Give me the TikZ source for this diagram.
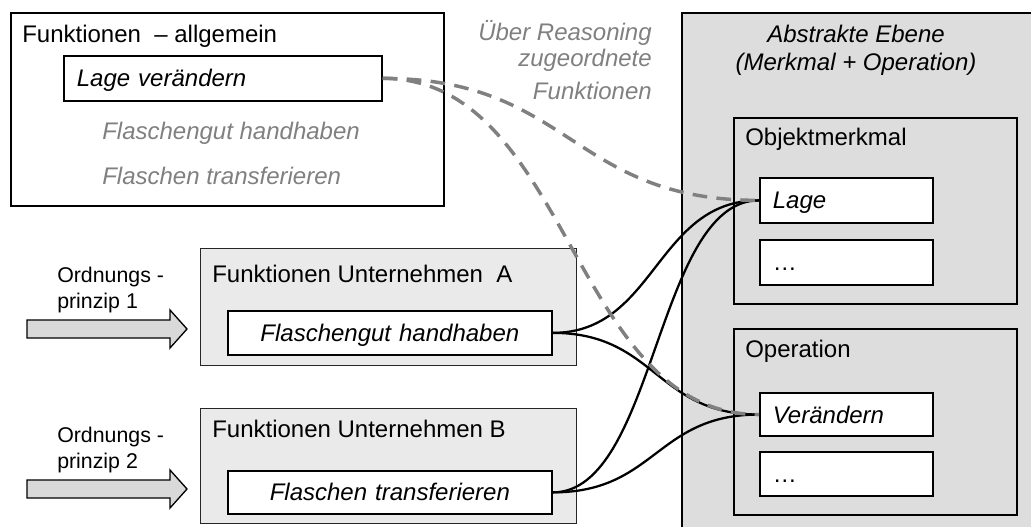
\documentclass[tikz,border=0pt]{standalone}
\usepackage{fontspec}
\setmainfont{Liberation Sans}
\usetikzlibrary{calc, positioning}

\definecolor{firmgray}{HTML}{EAEAEA}
\definecolor{levelgray}{HTML}{DDDDDD}
\definecolor{arrowgray}{HTML}{D9D9D9}
\definecolor{hintgray}{HTML}{808080}

\newcommand{\boxfont}{\fontsize{18}{21}\selectfont}
\newcommand{\smallboxfont}{\fontsize{16}{19.5}\selectfont}

\tikzstyle{frame}=[rectangle, draw=black, line width=1.3pt, anchor=north west, inner sep=0pt]
\tikzstyle{firm}=[frame, draw=black!85, line width=1pt, fill=firmgray]
\tikzstyle{level}=[frame, fill=levelgray]
\tikzstyle{func}=[rectangle, draw=black, line width=1.3pt, fill=white, anchor=north west, align=left, inner xsep=9.75pt, inner ysep=0pt, text height=12.9pt, text depth=0pt, font=\boxfont\itshape]
\tikzstyle{title}=[anchor=base west, inner sep=0pt, font=\boxfont]
\tikzstyle{hint}=[inner sep=0pt, text=hintgray, font=\boxfont\itshape]
\tikzstyle{principle}=[draw=black, line width=1pt, fill=arrowgray]
\tikzstyle{link}=[line width=1.7pt, draw=black]
\tikzstyle{reason}=[line width=2.6pt, draw=hintgray, dash pattern=on 11pt off 7pt]
\tikzset{elbow/.style={to path={.. controls ($(\tikztostart)!0.5!(\tikztotarget |- \tikztostart)$) and ($(\tikztotarget)!0.5!(\tikztostart |- \tikztotarget)$) .. (\tikztotarget)}}}

\begin{document}
\begin{tikzpicture}[x=0.75pt, y=-0.75pt]
\useasboundingbox (0,0) rectangle (1031,526);

% abstrakte Ebene
\node[level, minimum width=270pt, minimum height=397.5pt] (ebene) at (681,12) {};
\node[inner sep=0pt, align=center, anchor=base, font=\boxfont\itshape] (ebenetitle) at (856,70) {Abstrakte Ebene\\(Merkmal + Operation)};
\node[level, minimum width=212.25pt, minimum height=139.5pt] (merkmal) at (733,117) {};
\node[title] (merkmaltitle) at (745,145) {Objektmerkmal};
\node[func, text width=110.25pt, minimum height=33.75pt] (lage) at (759,177) {Lage};
\node[func, text width=110.25pt, minimum height=33.75pt, font=\boxfont] (merkmaldots) at (759,239) {…};
\node[level, minimum width=212.25pt, minimum height=139.5pt] (operation) at (733,328) {};
\node[title] (operationtitle) at (745,357) {Operation};
\node[func, text width=110.25pt, minimum height=32.5pt] (veraendern) at (759,392) {Verändern};
\node[func, text width=110.25pt, minimum height=33pt, font=\boxfont] (operationdots) at (759,451) {…};

% Funktionen allgemein
\node[frame, fill=white, minimum width=324.75pt, minimum height=144.75pt] (allgemein) at (10,12) {};
\node[title] (allgemeintitle) at (22,42) {Funktionen\ \ – allgemein};
\node[func, text width=219pt, minimum height=33.75pt] (lageveraendern) at (63,55) {Lage verändern};
\node[hint, anchor=base west] (handhabenhint) at (102,139) {Flaschengut handhaben};
\node[hint, anchor=base west] (transferhint) at (102,184) {Flaschen transferieren};
\node[hint, anchor=base east, align=right, font=\fontsize{18}{19.5}\selectfont\itshape] (reasoninghint) at (652,99) {Über Reasoning\\zugeordnete\\[5.25pt]Funktionen};

% Unternehmen
\node[firm, minimum width=282pt, minimum height=87.75pt] (firma) at (200,248) {};
\node[title] (firmatitle) at (212,282) {Funktionen Unternehmen\ \ A};
\node[func, align=center, text width=223.5pt, minimum height=33pt] (handhaben) at (227,310) {Flaschengut handhaben};
\node[firm, minimum width=282pt, minimum height=86.25pt] (firmb) at (200,408) {};
\node[title] (firmbtitle) at (212,437) {Funktionen Unternehmen B};
\node[func, align=center, text width=223.5pt, minimum height=32.25pt] (transferieren) at (227,470) {Flaschen transferieren};

% Ordnungsprinzipien
\draw[principle] (27,320) -- (170,320) -- (170,310) -- (187,329) -- (170,348) -- (170,338) -- (27,338) -- cycle;
\node[anchor=base west, inner sep=0pt, align=left, font=\smallboxfont] (principle1) at (57,308) {Ordnungs -\\prinzip 1};
\draw[principle] (27,480) -- (170,480) -- (170,470) -- (187,489) -- (170,508) -- (170,498) -- (27,498) -- cycle;
\node[anchor=base west, inner sep=0pt, align=left, font=\smallboxfont] (principle2) at (57,468) {Ordnungs -\\prinzip 2};

% Zuordnungen
\draw[link] (handhaben.east) to[elbow] (lage.west);
\draw[link] (handhaben.east) to[elbow] (veraendern.west);
\draw[link] (transferieren.east) to[elbow] (lage.west);
\draw[link] (transferieren.east) to[elbow] (veraendern.west);
\draw[reason] (lageveraendern.east) to[elbow] (lage.west);
\draw[reason] (lageveraendern.east) to[elbow] (veraendern.west);
\end{tikzpicture}
\end{document}
